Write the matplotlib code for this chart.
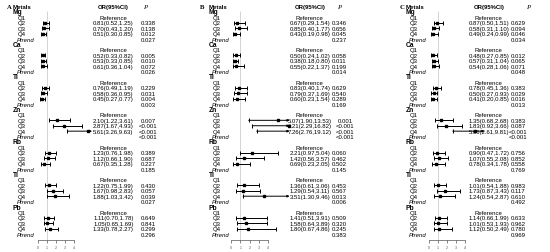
import matplotlib
matplotlib.use('Agg')
import matplotlib.pyplot as plt
from matplotlib.transforms import blended_transform_factory

W, H = 550, 253

metals = ['Mg', 'Ca', 'Ti', 'Zn', 'Rb', 'Tl', 'Pb']
quartiles = ['Q1', 'Q2', 'Q3', 'Q4']
panel_labels = ['A', 'B', 'C']

# Q2..Q4 for each metal, in metal order
or_a = [0.81, 0.70, 0.51, 0.52, 0.53, 0.61, 0.76, 0.58, 0.45, 2.10, 2.87, 5.61,
        1.23, 1.12, 0.67, 1.22, 1.67, 1.88, 1.11, 1.05, 1.33]
lo_a = [0.52, 0.43, 0.30, 0.33, 0.33, 0.36, 0.49, 0.36, 0.27, 1.22, 1.67, 3.26,
        0.76, 0.66, 0.35, 0.75, 0.98, 1.03, 0.70, 0.65, 0.78]
hi_a = [1.25, 1.20, 0.85, 0.82, 0.85, 1.04, 1.19, 0.95, 0.77, 3.61, 4.93, 9.63,
        1.98, 1.90, 1.28, 1.99, 2.83, 3.42, 1.78, 1.69, 2.27]
p_a = ['0.338', '0.138', '0.012', '0.005', '0.010', '0.072', '0.229', '0.031', '0.004',
       '0.007', '<0.001', '<0.001', '0.389', '0.687', '0.227', '0.430', '0.057', '0.039',
       '0.649', '0.841', '0.299']
ptrend_a = ['0.027', '0.026', '0.003', '<0.001', '0.185', '0.027', '0.296']

or_b = [0.67, 0.85, 0.43, 0.50, 0.38, 0.55, 0.83, 0.79, 0.60, 5.07, 6.21, 7.26,
        2.21, 1.42, 0.69, 1.36, 1.29, 3.51, 1.41, 1.58, 1.80]
lo_b = [0.29, 0.40, 0.19, 0.24, 0.18, 0.22, 0.40, 0.37, 0.23, 1.90, 2.29, 2.76,
        0.97, 0.56, 0.23, 0.61, 0.54, 1.30, 0.51, 0.64, 0.67]
hi_b = [1.54, 1.77, 0.98, 1.02, 0.80, 1.37, 1.74, 1.69, 1.54, 13.53, 16.82, 19.12,
        5.04, 3.57, 2.05, 3.06, 3.11, 9.46, 3.91, 3.89, 4.86]
p_b = ['0.346', '0.656', '0.045', '0.058', '0.011', '0.199', '0.629', '0.540', '0.289',
       '0.001', '<0.001', '<0.001', '0.060', '0.462', '0.502', '0.453', '0.567', '0.013',
       '0.509', '0.320', '0.245']
ptrend_b = ['0.237', '0.014', '0.169', '<0.001', '0.145', '0.006', '0.383']

or_c = [0.87, 0.58, 0.49, 0.48, 0.57, 0.54, 0.78, 0.50, 0.41, 1.35, 1.83, 5.06,
        0.90, 1.07, 0.78, 1.01, 1.73, 1.24, 1.14, 1.01, 1.12]
lo_c = [0.50, 0.31, 0.24, 0.27, 0.31, 0.28, 0.45, 0.27, 0.20, 0.68, 0.92, 2.61,
        0.47, 0.55, 0.34, 0.54, 0.87, 0.54, 0.66, 0.53, 0.50]
hi_c = [1.51, 1.10, 0.99, 0.85, 1.04, 1.06, 1.36, 0.93, 0.85, 2.68, 3.66, 9.81,
        1.72, 2.08, 1.78, 1.88, 3.43, 2.87, 1.99, 1.93, 2.49]
p_c = ['0.629', '0.094', '0.046', '0.012', '0.065', '0.071', '0.383', '0.029', '0.016',
       '0.383', '0.087', '<0.001', '0.756', '0.852', '0.558', '0.983', '0.117', '0.610',
       '0.633', '0.962', '0.780']
ptrend_c = ['0.034', '0.048', '0.013', '<0.001', '0.769', '0.492', '0.969']

axis_ticks = [0, 1, 2, 3, 4]

panels = [(or_a, lo_a, hi_a, p_a, ptrend_a),
          (or_b, lo_b, hi_b, p_b, ptrend_b),
          (or_c, lo_c, hi_c, p_c, ptrend_c)]

# pixel layout of each panel
layouts = [
    dict(letter=7, name=12.5, q=18, trend=16.5, zero=38, unit=9.0, orx=113.3, px=148.5, phead=145.5, clip=6.0),
    dict(letter=200, name=208.7, q=213, trend=211.5, zero=231, unit=9.3, orx=309.7, px=339, phead=339, clip=6.3),
    dict(letter=400, name=405.7, q=410, trend=408.5, zero=429, unit=9.1, orx=488.8, px=518, phead=528, clip=6.1),
]

ROW0, ROWH = 7.5, 5.42
AX_TOP, AX_BOT = 4, 241
FS = 4.3
SANS = 'Liberation Sans'
SERIF = 'Liberation Serif'

fig = plt.figure(figsize=(W / 100, H / 100), dpi=100)

for i, (ors, los, his, ps, ptr) in enumerate(panels):
    lay = layouts[i]
    u = lay['unit']
    x0, x1 = -0.4, lay['clip'] + 0.4
    left = lay['zero'] + x0 * u
    right = lay['zero'] + x1 * u
    ax = fig.add_axes([left / W, 1 - AX_BOT / H, (right - left) / W, (AX_BOT - AX_TOP) / H])
    ax.set_xlim(x0, x1)
    ax.set_ylim((AX_BOT - ROW0) / ROWH, (AX_TOP - ROW0) / ROWH)
    for s in ['top', 'right', 'left']:
        ax.spines[s].set_visible(False)
    ax.spines['bottom'].set_bounds(axis_ticks[0], axis_ticks[-1])
    ax.spines['bottom'].set_linewidth(0.5)
    ax.spines['bottom'].set_color('#555555')
    ax.set_yticks([])
    ax.set_xticks(axis_ticks)
    ax.set_xticklabels([str(t) for t in axis_ticks], fontsize=2.6, color='#555555', family=SANS)
    ax.tick_params(axis='x', length=2, width=0.5, pad=1.5, color='#555555')
    ax.patch.set_alpha(0)

    ax.vlines(1, 0.9, (AX_BOT - ROW0) / ROWH, color='#d4d4d4', lw=0.7, zorder=0)

    tr = blended_transform_factory(fig.transFigure, ax.transData)

    def put(px, row, s, **kw):
        kw.setdefault('fontsize', FS)
        kw.setdefault('family', SANS)
        ax.text(px / W, row, s, transform=tr, va='center', **kw)

    fig.text(lay['letter'] / W, 1 - ROW0 / H, panel_labels[i], family=SERIF,
             fontsize=4.8, va='center', ha='left', fontweight='bold')
    put(lay['name'], 0, 'Metals', fontweight='bold', ha='left')
    put(lay['orx'], 0, 'OR(95%CI)', fontweight='bold', ha='center')
    put(lay['phead'], 0, 'P', family=SERIF, style='italic', ha='center', fontsize=5)

    for m, metal in enumerate(metals):
        base = 1 + 6 * m
        labels = [f'{ors[3*m+k]:.2f}({los[3*m+k]:.2f},{his[3*m+k]:.2f})' for k in range(3)]
        # blocks with wider CI strings push their P column right
        pshift = 6 if max(len(s) for s in labels) > 15 else 0
        put(lay['name'], base, metal, fontweight='bold', ha='left', fontsize=4.8)
        for k, q in enumerate(quartiles):
            put(lay['q'], base + 1 + k, q, ha='left')
        put(lay['trend'], base + 5, 'Ptrend', style='italic', ha='left')
        put(lay['orx'], base + 1, 'Reference', ha='center')
        put(lay['px'] + pshift, base + 5, ptr[m], ha='center')
        for k in range(3):
            j = 3 * m + k
            row = base + 2 + k
            o, lo, hi = ors[j], los[j], his[j]
            put(lay['orx'], row, labels[k], ha='center')
            put(lay['px'] + pshift, row, ps[j], ha='center')
            if hi <= lay['clip']:
                ax.errorbar(o, row, xerr=[[o - lo], [hi - o]], fmt='s', ms=1.7,
                            color='black', elinewidth=0.7, capsize=1.3, capthick=0.7)
            else:
                ax.plot([lo], [row], marker='|', ms=2.6, mew=0.7, color='black')
                ax.annotate('', xy=(lay['clip'], row), xytext=(lo, row),
                            arrowprops=dict(arrowstyle='-|>', lw=0.7, color='black',
                                            mutation_scale=3, shrinkA=0, shrinkB=0))
                if o <= lay['clip']:
                    ax.plot([o], [row], marker='s', ms=1.7, color='black')

fig.savefig('out.png', dpi=100)
